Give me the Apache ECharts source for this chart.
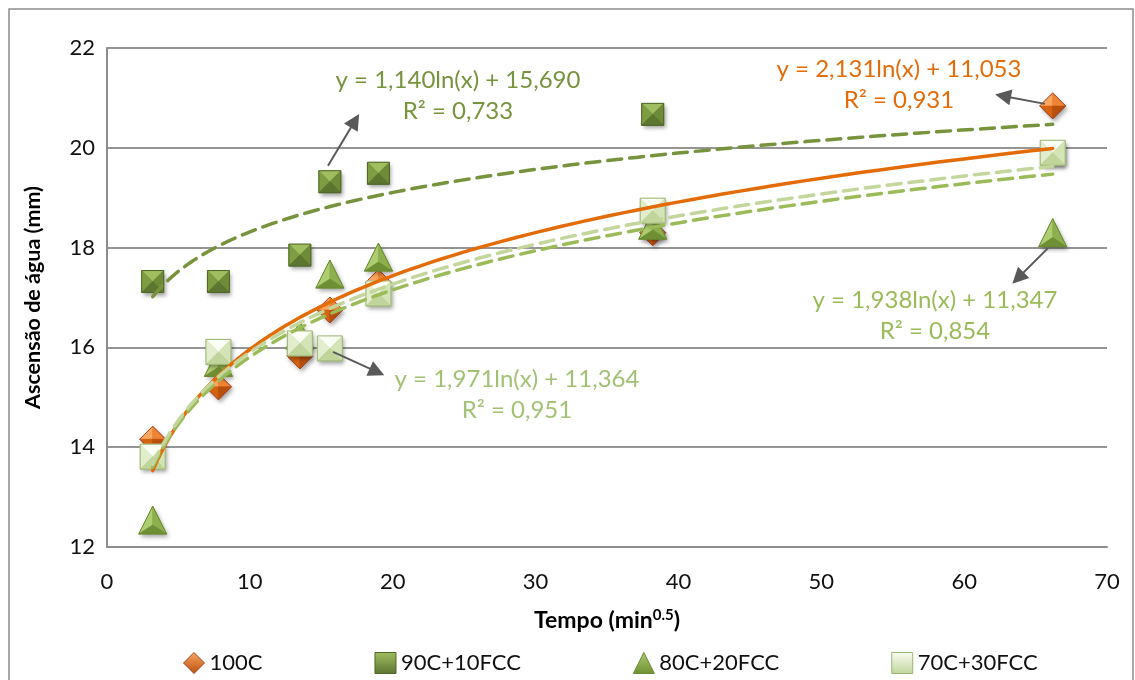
<!DOCTYPE html>
<html>
<head>
<meta charset="utf-8">
<script src="https://cdn.jsdelivr.net/npm/echarts@6/dist/echarts.min.js"></script>
<style>
  html, body { margin: 0; padding: 0; background: #fff; }
  #chart { width: 1135px; height: 680px; }
</style>
</head>
<body>
<div id="chart"></div>
<script>
// Capillary water rise vs. square root of time, four mixes
const timeX = [3.2, 7.8, 13.5, 15.6, 19.0, 38.2, 66.2];
const rise100C = [14.16, 15.21, 15.83, 16.75, 17.30, 18.30, 20.84];
const rise90C = [17.32, 17.32, 17.85, 19.32, 19.49, 20.67, 19.88];
const rise80C = [12.54, 15.70, 16.25, 17.47, 17.81, 18.45, 18.30];
const rise70C = [13.81, 15.91, 16.08, 15.98, 17.08, 18.74, 19.90];

const seriesNames = ['100C', '90C+10FCC', '80C+20FCC', '70C+30FCC'];
// logarithmic trend lines y = a ln(x) + b
const trendSlope = [2.131, 1.140, 1.938, 1.971];
const trendIntercept = [11.053, 15.690, 11.347, 11.364];
const trendR2 = [0.931, 0.733, 0.854, 0.951];

const xTicks = [0, 10, 20, 30, 40, 50, 60, 70];
const yTicks = [12, 14, 16, 18, 20, 22];

const FONT = 'Lato, "Noto Sans", sans-serif';

function pairs(ys) { return timeX.map((x, i) => [x, ys[i]]); }
const fmt = v => v.toFixed(3).replace('.', ',');

function trendPoints(k) {
  const x0 = Math.min(...timeX), x1 = Math.max(...timeX);
  const pts = [];
  const n = 120;
  for (let i = 0; i <= n; i++) {
    const x = x0 * Math.pow(x1 / x0, i / n);
    pts.push([x, trendSlope[k] * Math.log(x) + trendIntercept[k]]);
  }
  return pts;
}

// Bevelled marker shapes, facets drawn around the point centre
const markerStyles = {
  diamond: {
    a: 13, b: 13, stroke: '#A0452A',
    facets: ['#FBA660', '#F08434', '#D5620F', '#B8500D']
  },
  darkSquare: {
    a: 11, stroke: '#4E6626',
    facets: ['#A0BE60', '#7E9C42', '#6E8B37', '#5C7530']
  },
  triangle: {
    a: 14, b: 14, stroke: '#698A30',
    facets: ['#AECC70', '#8EAF4D', '#6F8F35']
  },
  lightSquare: {
    a: 12.5, stroke: '#9DB573',
    facets: ['#FAFDF3', '#E1EDCC', '#D3E4B6', '#C0D59B']
  }
};

function shapeParts(kind) {
  const s = markerStyles[kind];
  let outline, facets;
  if (kind === 'diamond') {
    const T = [0, -s.b], R = [s.a, 0], B = [0, s.b], L = [-s.a, 0], C = [0, 0];
    outline = [T, R, B, L];
    facets = [[L, T, C], [T, R, C], [L, B, C], [R, B, C]];
  } else if (kind === 'triangle') {
    const A = [0, -s.b], BL = [-s.a, s.b], BR = [s.a, s.b], C = [0, s.b * 0.35];
    outline = [A, BR, BL];
    facets = [[A, BL, C], [A, BR, C], [BL, BR, C]];
  } else {
    const a = s.a;
    const TL = [-a, -a], TR = [a, -a], BR = [a, a], BL = [-a, a], C = [0, 0];
    outline = [TL, TR, BR, BL];
    facets = [[TL, TR, C], [TL, BL, C], [TR, BR, C], [BL, BR, C]];
  }
  return { outline, facets, s };
}

function markerRenderer(kind) {
  const parts = shapeParts(kind);
  return function (params, api) {
    const p = api.coord([api.value(0), api.value(1)]);
    const children = [{
      type: 'polygon',
      shape: { points: parts.outline },
      style: {
        fill: parts.s.stroke,
        shadowBlur: 4, shadowOffsetX: 2, shadowOffsetY: 3,
        shadowColor: 'rgba(0,0,0,0.35)'
      }
    }];
    parts.facets.forEach((f, i) => {
      children.push({
        type: 'polygon',
        shape: { points: f },
        style: { fill: parts.s.facets[i], stroke: parts.s.facets[i], lineWidth: 0.5 }
      });
    });
    children.push({
      type: 'polygon',
      shape: { points: parts.outline },
      style: { fill: null, stroke: parts.s.stroke, lineWidth: 1 }
    });
    return { type: 'group', x: p[0], y: p[1], children: children };
  };
}

function grad(c1, c2) {
  return new echarts.graphic.LinearGradient(0, 0, 0, 1, [
    { offset: 0, color: c1 }, { offset: 1, color: c2 }
  ]);
}

const markerKinds = ['diamond', 'darkSquare', 'triangle', 'lightSquare'];
const markerData = [rise100C, rise90C, rise80C, rise70C];
const legendFill = [
  grad('#FBA660', '#B8500D'),
  grad('#A0BE60', '#5C7530'),
  grad('#AECC70', '#6F8F35'),
  grad('#FAFDF3', '#C0D59B')
];
const legendBorder = ['#A0452A', '#4E6626', '#698A30', '#9DB573'];
const legendIcons = [
  'path://M10,0 L20,10 L10,20 L0,10 Z',
  'rect',
  'triangle',
  'rect'
];
const trendColors = ['#E36C09', '#77933C', '#9BBB59', '#C3D69B'];
const labelColors = ['#E36C09', '#77933C', '#9BBB59', '#A3C174'];
const labelCenters = [[899, 85], [458, 96], [935, 316], [517, 395]];

const series = [];
markerKinds.forEach((kind, k) => {
  series.push({
    name: seriesNames[k],
    type: 'custom',
    renderItem: markerRenderer(kind),
    data: pairs(markerData[k]),
    encode: { x: 0, y: 1 },
    itemStyle: { color: legendFill[k] },
    z: 3 + k * 0.1,
    silent: true
  });
});
trendColors.forEach((c, k) => {
  series.push({
    name: 'trend-' + seriesNames[k],
    type: 'line',
    data: trendPoints(k),
    showSymbol: false,
    smooth: false,
    silent: true,
    z: 5 + k * 0.1,
    lineStyle: {
      color: c, width: 3.5,
      type: k === 0 ? 'solid' : [14, 8],
      cap: 'round'
    }
  });
});
// leader arrows between equations and their points
series.push({
  name: 'arrows',
  type: 'line',
  data: [],
  silent: true,
  z: 6,
  markLine: {
    silent: true,
    animation: false,
    symbol: ['none', 'triangle'],
    symbolSize: 16,
    label: { show: false },
    lineStyle: { color: '#595959', width: 2, type: 'solid' },
    itemStyle: { color: '#595959' },
    emphasis: { disabled: true },
    data: [
      [{ coord: [15.47, 19.64] }, { coord: [17.36, 20.54] }],
      [{ coord: [65.66, 20.88] }, { coord: [62.72, 21.04] }],
      [{ coord: [65.87, 17.99] }, { coord: [63.77, 17.39] }],
      [{ coord: [15.82, 15.91] }, { coord: [18.90, 15.51] }]
    ]
  }
});

const graphics = [{
  type: 'rect',
  shape: { x: 9, y: 9, width: 1124, height: 700 },
  style: { fill: null, stroke: '#8C8C8C', lineWidth: 1.5 },
  silent: true, z: -10
}];
seriesNames.forEach((n, k) => {
  graphics.push({
    type: 'text',
    x: labelCenters[k][0], y: labelCenters[k][1],
    style: {
      text: 'y = ' + fmt(trendSlope[k]) + 'ln(x) + ' + fmt(trendIntercept[k]) +
        '\nR² = ' + fmt(trendR2[k]),
      font: '24px ' + FONT,
      fill: labelColors[k],
      textAlign: 'center',
      textVerticalAlign: 'middle',
      lineHeight: 31
    },
    silent: true, z: 20
  });
});

const chart = echarts.init(document.getElementById('chart'), null, { renderer: 'canvas' });
chart.setOption({
  animation: false,
  backgroundColor: '#ffffff',
  textStyle: { fontFamily: FONT },
  grid: { left: 107, right: 28, top: 48, bottom: 133, containLabel: false },
  legend: {
    left: 178, top: 647,
    itemWidth: 21, itemHeight: 21,
    itemGap: 112,
    textStyle: { fontSize: 22, color: '#111', fontFamily: FONT },
    data: seriesNames.map((n, k) => ({
      name: n,
      icon: legendIcons[k],
      itemStyle: { color: legendFill[k], borderColor: legendBorder[k], borderWidth: 1 }
    })),
    selectedMode: false
  },
  xAxis: {
    type: 'value',
    min: xTicks[0], max: xTicks[xTicks.length - 1], interval: 10,
    name: 'Tempo (min{sup|0.5})',
    nameLocation: 'middle',
    nameGap: 61,
    nameTextStyle: {
      fontSize: 23, fontWeight: 'bold', color: '#000', fontFamily: FONT,
      rich: { sup: { fontSize: 15, fontWeight: 'bold', verticalAlign: 'top', padding: [0, 0, 10, 0], color: '#000' } }
    },
    axisLine: { show: true, onZero: false, lineStyle: { color: '#8C8C8C', width: 2 } },
    axisTick: { show: false },
    splitLine: { show: false },
    axisLabel: { fontSize: 22, color: '#111', margin: 24, fontFamily: FONT }
  },
  yAxis: {
    type: 'value',
    min: yTicks[0], max: yTicks[yTicks.length - 1], interval: 2,
    name: 'Ascensão de água (mm)',
    nameLocation: 'middle',
    nameGap: 63,
    nameRotate: 90,
    nameTextStyle: { fontSize: 21.5, fontWeight: 'bold', color: '#000', fontFamily: FONT },
    axisLine: { show: true, lineStyle: { color: '#8C8C8C', width: 2 } },
    axisTick: { show: false },
    splitLine: { show: true, lineStyle: { color: '#959595', width: 2 } },
    axisLabel: { fontSize: 22, color: '#111', margin: 12, fontFamily: FONT }
  },
  graphic: graphics,
  series: series
});
</script>
</body>
</html>
